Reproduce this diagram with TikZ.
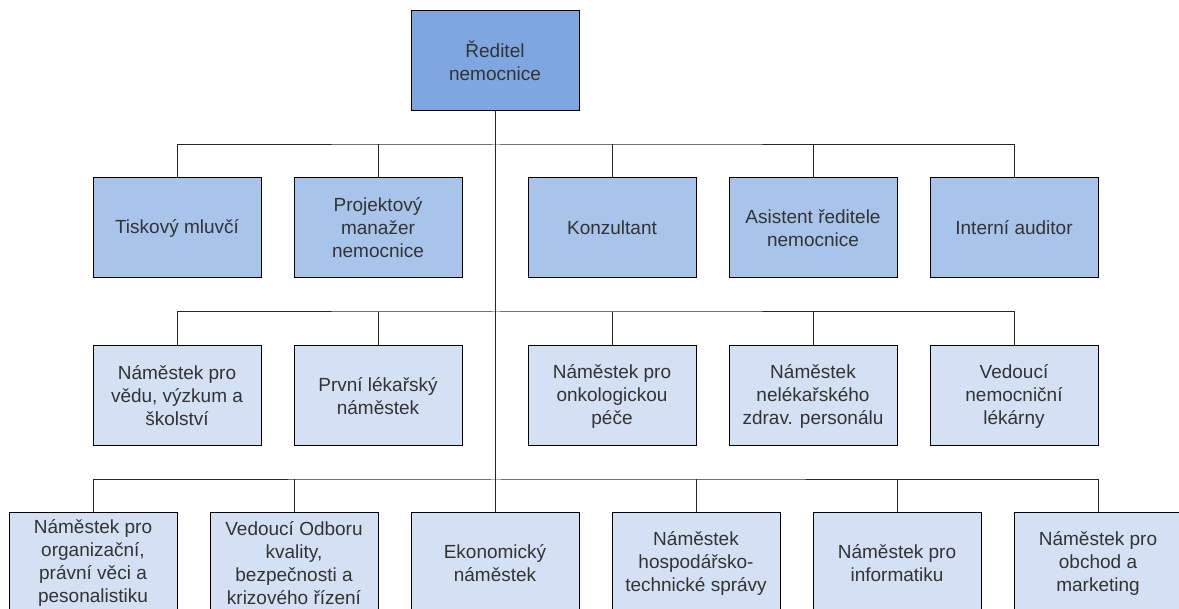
\documentclass[tikz,border=0pt]{standalone}
\usepackage{fontspec}
\setmainfont{Liberation Sans}
\usetikzlibrary{positioning}
\definecolor{headblue}{HTML}{7EA6E0}
\definecolor{staffblue}{HTML}{A9C4EB}
\definecolor{deputyblue}{HTML}{D4E1F5}

\begin{document}
\begin{tikzpicture}[x=1pt, y=-1pt, node distance=32pt]
    \tikzstyle{box} = [rectangle, minimum width=168pt, minimum height=100pt, inner sep=2pt, align=center, text centered, draw=black, line width=1pt, font=\fontsize{19}{23}\selectfont, text=black!80]
    \tikzstyle{head} = [box, fill=headblue]
    \tikzstyle{staff} = [box, fill=staffblue]
    \tikzstyle{deputy} = [box, fill=deputyblue]
    \tikzstyle{line} = [line width=1pt, draw=black!85]
    \clip (0,0) rectangle (1179,609);
    \node (director) [head] at (495,61) {Ředitel\\nemocnice};
    % first row
    \node (tisk) [staff] at (177,228) {Tiskový mluvčí};
    \node (projekt) [staff, right=of tisk] {Projektový\\manažer\\nemocnice};
    \node (konz) [staff] at (612,228) {Konzultant};
    \node (asist) [staff, right=of konz] {Asistent ředitele\\nemocnice};
    \node (audit) [staff, right=of asist] {Interní auditor};
    % second row
    \node (veda) [deputy, below=67pt of tisk] {Náměstek pro\\vědu, výzkum a\\školství};
    \node (prvni) [deputy, below=67pt of projekt] {První lékařský\\náměstek};
    \node (onko) [deputy, below=67pt of konz] {Náměstek pro\\onkologickou\\péče};
    \node (nelek) [deputy, below=67pt of asist] {Náměstek\\nelékařského\\zdrav. personálu};
    \node (lekarna) [deputy, below=67pt of audit] {Vedoucí\\nemocniční\\lékárny};
    % third row
    \node (org) [deputy] at (93,563) {Náměstek pro\\organizační,\\právní věci a\\pesonalistiku};
    \node (kvalita) [deputy, right=of org] {Vedoucí Odboru\\kvality,\\bezpečnosti a\\krizového řízení};
    \node (ekon) [deputy, right=of kvalita] {Ekonomický\\náměstek};
    \node (hosp) [deputy, right=of ekon] {Náměstek\\hospodářsko-\\technické správy};
    \node (info) [deputy, right=of hosp] {Náměstek pro\\informatiku};
    \node (obchod) [deputy, right=of info] {Náměstek pro\\obchod a\\marketing};
    \coordinate (bus1) at (495,145);
    \coordinate (bus2) at (495,312);
    \coordinate (bus3) at (495,480);
    \draw [line] (director) -- (ekon);
    \draw [line] (tisk.north) |- (bus1) -| (audit.north);
    \draw [line] (veda.north) |- (bus2) -| (lekarna.north);
    \draw [line] (org.north) |- (bus3) -| (obchod.north);
    \foreach \n in {projekt, konz, asist, prvni, onko, nelek, kvalita, hosp, info}
        \draw [line] (\n.north) -- ++(0,-33);
\end{tikzpicture}
\end{document}
